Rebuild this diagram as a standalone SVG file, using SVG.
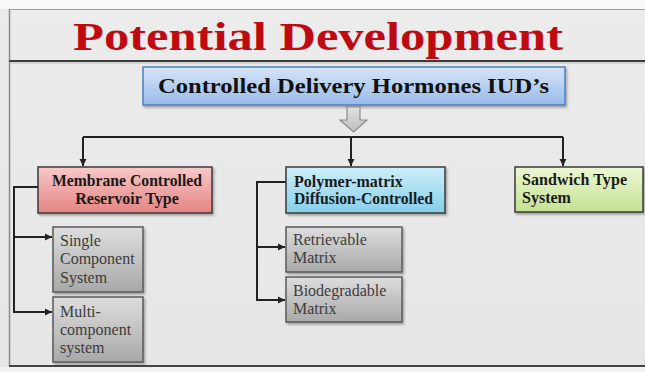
<svg xmlns="http://www.w3.org/2000/svg" width="645" height="372" viewBox="0 0 645 372">
<defs>
<linearGradient id="gBg" x1="0" y1="0" x2="0" y2="1"><stop offset="0" stop-color="#ececec"/><stop offset="1" stop-color="#e6e6e6"/></linearGradient>
<linearGradient id="gTop" x1="0" y1="0" x2="0" y2="1"><stop offset="0" stop-color="#d6e5f8"/><stop offset="1" stop-color="#98bae8"/></linearGradient>
<linearGradient id="gRed" x1="0" y1="0" x2="0" y2="1"><stop offset="0" stop-color="#f8c9c9"/><stop offset="1" stop-color="#e58383"/></linearGradient>
<linearGradient id="gBlue" x1="0" y1="0" x2="0" y2="1"><stop offset="0" stop-color="#cdeff9"/><stop offset="1" stop-color="#86cfea"/></linearGradient>
<linearGradient id="gGreen" x1="0" y1="0" x2="0" y2="1"><stop offset="0" stop-color="#edf7d4"/><stop offset="1" stop-color="#c4e192"/></linearGradient>
<linearGradient id="gGray" x1="0" y1="0" x2="0" y2="1"><stop offset="0" stop-color="#dedede"/><stop offset="1" stop-color="#a8a8a8"/></linearGradient>
<linearGradient id="gArrow" x1="0" y1="0" x2="0" y2="1"><stop offset="0" stop-color="#e2e2e2"/><stop offset="1" stop-color="#bdbdbd"/></linearGradient>
<filter id="sh" x="-10%" y="-10%" width="130%" height="140%"><feDropShadow dx="1.5" dy="2" stdDeviation="1.2" flood-color="#000" flood-opacity="0.3"/></filter>
<marker id="ah" markerUnits="userSpaceOnUse" markerWidth="8" markerHeight="8" refX="7" refY="4" orient="auto"><path d="M0,0.5 L7,4 L0,7.5 Z" fill="#222"/></marker>
<style>
.box{stroke:#3a3a3a;stroke-width:1.5;filter:url(#sh)}
.gray{fill:url(#gGray);stroke:#5a5a5a}
.bt{font-family:"Liberation Serif","Times New Roman",serif;font-weight:bold;font-size:16px;fill:#1a1a1a}
.gt{font-family:"Liberation Serif","Times New Roman",serif;font-size:16px;fill:#3c3c3c}
.conn{fill:none;stroke:#222;stroke-width:2}
</style>
</defs>
<rect x="0" y="0" width="645" height="372" fill="url(#gBg)"/>
<rect x="0" y="0" width="645" height="9" fill="#f9f9f9"/>
<line x1="9" y1="9.5" x2="645" y2="9.5" stroke="#a0a0a0" stroke-width="1"/>
<line x1="9.5" y1="9" x2="9.5" y2="366" stroke="#8a8a8a" stroke-width="1.5"/>
<line x1="9" y1="61" x2="645" y2="61" stroke="#3c3c3c" stroke-width="2.2"/>
<line x1="9" y1="63" x2="645" y2="63" stroke="#bbbbbb" stroke-width="1"/>
<line x1="9" y1="366" x2="645" y2="366" stroke="#444" stroke-width="2"/>
<rect x="0" y="367" width="645" height="5" fill="#f2f2f2"/>
<text x="73" y="50" font-family="Liberation Serif,'Times New Roman',serif" font-weight="bold" font-size="40" fill="#c00a12" textLength="490" lengthAdjust="spacingAndGlyphs">Potential Development</text>

<g id="connectors">
<path class="conn" d="M83,137 H563"/>
<path class="conn" d="M83,137 V166" marker-end="url(#ah)"/>
<path class="conn" d="M351,137 V166" marker-end="url(#ah)"/>
<path class="conn" d="M563,137 V166" marker-end="url(#ah)"/>
<path class="conn" d="M38,187 H14 V312 H52" marker-end="url(#ah)"/>
<path class="conn" d="M14,237 H52" marker-end="url(#ah)"/>
<path class="conn" d="M286,182 H257 V300 H285" marker-end="url(#ah)"/>
<path class="conn" d="M257,247 H285" marker-end="url(#ah)"/>
</g>

<g id="root">
<rect class="box" x="143" y="67" width="422" height="38" fill="url(#gTop)" style="stroke:#4f7fc4"/>
<text x="158" y="93" font-family="Liberation Serif,'Times New Roman',serif" font-weight="bold" font-size="20" fill="#111" textLength="391" lengthAdjust="spacingAndGlyphs">Controlled Delivery Hormones IUD’s</text>
</g>
<g id="down-arrow">
<path d="M347,107 H360 V120 H367 L353.5,132 L340,120 H347 Z" fill="url(#gArrow)" stroke="#8a8a8a" stroke-width="1.2"/>
</g>

<g id="membrane">
<rect class="box" x="38" y="167" width="174" height="46" fill="url(#gRed)"/>
<text class="bt" x="127" y="186" text-anchor="middle" textLength="150" lengthAdjust="spacingAndGlyphs">Membrane Controlled</text>
<text class="bt" x="127" y="204" text-anchor="middle">Reservoir Type</text>
</g>
<g id="polymer">
<rect class="box" x="286" y="167" width="159" height="46" fill="url(#gBlue)"/>
<text class="bt" x="294" y="187">Polymer-matrix</text>
<text class="bt" x="294" y="204" textLength="139" lengthAdjust="spacingAndGlyphs">Diffusion-Controlled</text>
</g>
<g id="sandwich">
<rect class="box" x="515" y="167" width="128" height="45" fill="url(#gGreen)"/>
<text class="bt" x="522" y="185" textLength="105" lengthAdjust="spacing">Sandwich Type</text>
<text class="bt" x="522" y="203">System</text>
</g>

<g id="single">
<rect class="box gray" x="53" y="227" width="90" height="65"/>
<text class="gt" x="60" y="246">Single</text>
<text class="gt" x="60" y="264">Component</text>
<text class="gt" x="60" y="283">System</text>
</g>
<g id="multi">
<rect class="box gray" x="53" y="297" width="90" height="65"/>
<text class="gt" x="60" y="317">Multi-</text>
<text class="gt" x="60" y="335">component</text>
<text class="gt" x="60" y="353">system</text>
</g>
<g id="retrievable">
<rect class="box gray" x="286" y="227" width="116" height="45"/>
<text class="gt" x="293" y="245">Retrievable</text>
<text class="gt" x="293" y="263">Matrix</text>
</g>
<g id="biodegradable">
<rect class="box gray" x="286" y="277" width="116" height="45"/>
<text class="gt" x="293" y="296">Biodegradable</text>
<text class="gt" x="293" y="314">Matrix</text>
</g>
</svg>
